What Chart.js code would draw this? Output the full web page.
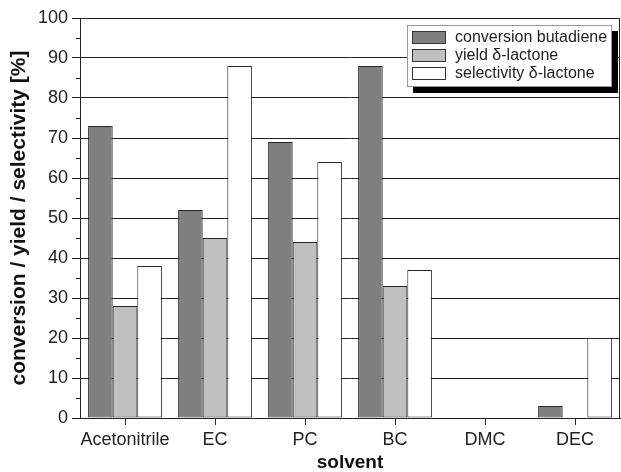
<!DOCTYPE html>
<html lang="en">
<head>
  <meta charset="UTF-8"/>
  <title>Solvent screening</title>
  <script src="https://cdn.jsdelivr.net/npm/chart.js"></script>
  <style>
    body {
      margin: 0;
      padding: 0;
      background: #fff;
    }
    #solventChart {
      display: block;
    }
  </style>
</head>
<body>

<canvas id="solventChart" width="621" height="472"></canvas>

<script>
  const solvents = ["Acetonitrile", "EC", "PC", "BC", "DMC", "DEC"];
  const conversion = [73, 52, 69, 88, 0, 3];
  const yieldLactone = [28, 45, 44, 33, 0, 0];
  const selectivity = [38, 88, 64, 37, 0, 20];
  const seriesNames = ["conversion butadiene", "yield \u03b4-lactone", "selectivity \u03b4-lactone"];
  const seriesColors = ["#7f7f7f", "#c0c0c0", "#ffffff"];

  const FONT = "'Liberation Sans', Arial, sans-serif";
  const INK = "#222";

  // frame, minor y ticks and the boxed legend with its black drop shadow
  const decorations = {
    id: "decorations",
    afterDatasetsDraw(chart) {
      const ctx = chart.ctx;
      const area = chart.chartArea;
      const y = chart.scales.y;
      ctx.save();
      ctx.strokeStyle = INK;
      ctx.lineWidth = 1;
      ctx.strokeRect(area.left + 0.5, area.top + 0.5, area.right - area.left - 1, area.bottom - area.top);
      // minor ticks every 5 %
      ctx.beginPath();
      for (let v = 5; v < 100; v += 10) {
        const py = Math.round(y.getPixelForValue(v)) + 0.5;
        ctx.moveTo(area.left - 4, py);
        ctx.lineTo(area.left, py);
      }
      ctx.stroke();

      // legend
      const w = 205, h = 62, shadow = 6;
      const lx = area.right - 8 - w;
      const ly = area.top + 7;
      ctx.fillStyle = "#000";
      ctx.fillRect(lx + shadow, ly + shadow, w, h);
      ctx.fillStyle = "#fff";
      ctx.fillRect(lx, ly, w, h);
      ctx.strokeStyle = "#999";
      ctx.strokeRect(lx + 0.5, ly + 0.5, w - 1, h - 1);

      ctx.font = "16px " + FONT;
      ctx.textBaseline = "middle";
      chart.data.datasets.forEach((ds, i) => {
        const cy = ly + 12 + i * 18;
        ctx.fillStyle = ds.backgroundColor;
        ctx.fillRect(lx + 5, cy - 6, 34, 13);
        ctx.strokeStyle = "#333";
        ctx.strokeRect(lx + 5.5, cy - 5.5, 33, 12);
        ctx.fillStyle = INK;
        ctx.fillText(ds.label, lx + 48, cy + 1);
      });
      ctx.restore();
    }
  };

  function drawChart() {
    const ctx = document.getElementById("solventChart").getContext("2d");
    const series = [conversion, yieldLactone, selectivity];

    new Chart(ctx, {
      type: "bar",
      data: {
        labels: solvents,
        datasets: series.map((values, i) => ({
          label: seriesNames[i],
          data: values,
          backgroundColor: seriesColors[i],
          borderColor: "#262626",
          borderWidth: 1,
          borderSkipped: false,
          categoryPercentage: 0.82,
          barPercentage: 1.0
        }))
      },
      options: {
        responsive: false,
        animation: false,
        layout: { padding: { top: 18, right: 1, left: 0, bottom: 0 } },
        plugins: {
          legend: { display: false },
          tooltip: { enabled: false }
        },
        scales: {
          x: {
            offset: true,
            grid: {
              drawOnChartArea: false,
              drawTicks: true,
              tickLength: 7,
              tickColor: INK,
              offset: false
            },
            border: { display: true, color: INK, width: 1 },
            ticks: {
              color: INK,
              padding: 4,
              maxRotation: 0,
              autoSkip: false,
              font: { family: FONT, size: 18 }
            },
            title: {
              display: true,
              text: "solvent",
              color: "#111",
              padding: { top: 0, bottom: 0 },
              font: { family: FONT, size: 19, weight: "bold", lineHeight: 1.0 }
            },
            afterFit(scale) { scale.height = 54; }
          },
          y: {
            min: 0,
            max: 100,
            ticks: {
              stepSize: 10,
              color: INK,
              padding: 4,
              font: { family: FONT, size: 18 }
            },
            grid: {
              color: INK,
              lineWidth: 1,
              tickLength: 8,
              tickColor: INK
            },
            border: { display: true, color: INK, width: 1 },
            title: {
              display: true,
              text: "conversion / yield / selectivity [%]",
              color: "#111",
              padding: { top: 9, bottom: 0 },
              font: { family: FONT, size: 21, weight: "bold", lineHeight: 1.0 }
            },
            afterFit(scale) { scale.width = 80; }
          }
        }
      },
      plugins: [decorations]
    });
  }

  window.onload = drawChart;
</script>

</body>
</html>
